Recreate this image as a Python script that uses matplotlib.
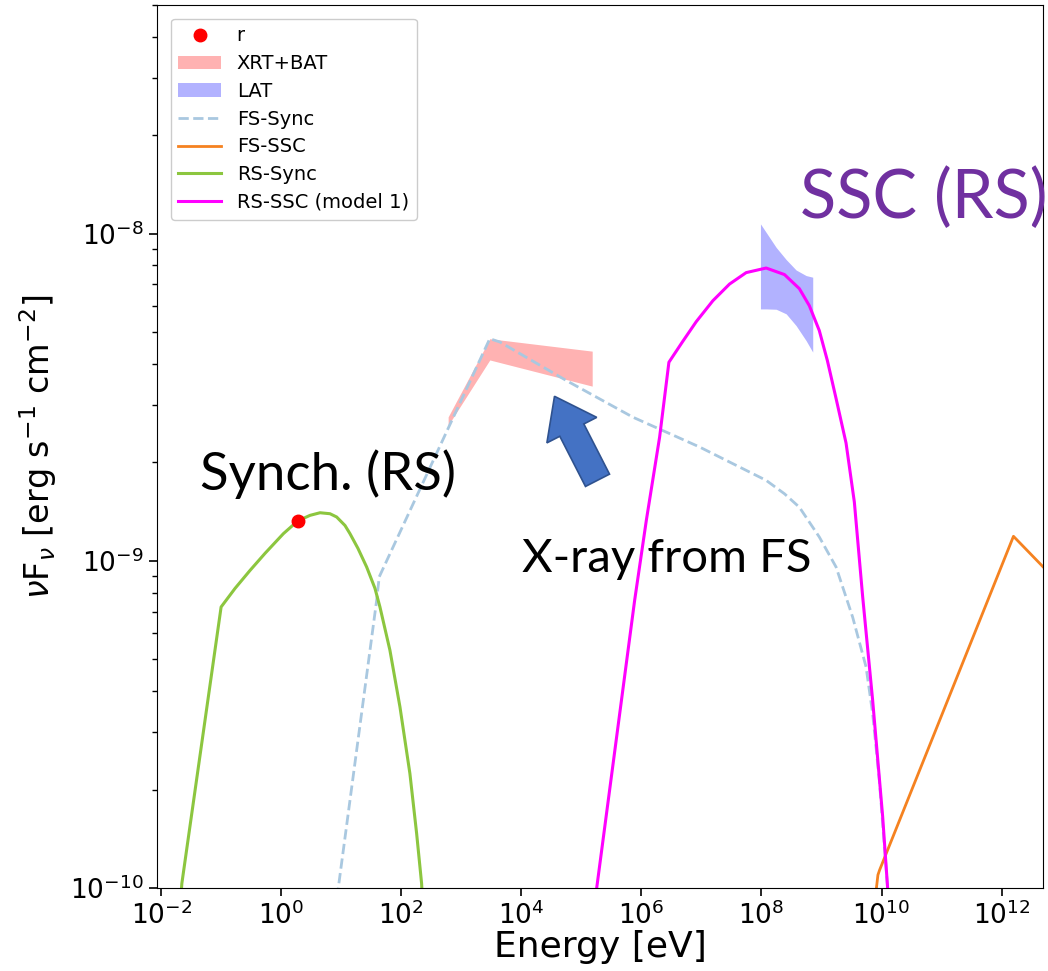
import numpy as np
import matplotlib
matplotlib.use('Agg')
import matplotlib.pyplot as plt
from matplotlib.patches import FancyArrow

# ---- data (log10 energy [eV], log10 nuFnu [erg/s/cm2]) ----
rs_sync_logE = [-1.70, -1.656, -1.002, -0.769, -0.519, -0.270, 0.035, 0.275, 0.479, 0.646,
                0.812, 0.923, 1.062, 1.145, 1.278, 1.423, 1.561, 1.644, 1.810, 1.977,
                2.143, 2.255, 2.338, 2.37]
rs_sync_logF = [-10.10, -9.986, -9.141, -9.084, -9.029, -8.977, -8.917, -8.878, -8.861, -8.853,
                -8.856, -8.866, -8.892, -8.917, -8.962, -9.019, -9.084, -9.141, -9.273, -9.446,
                -9.650, -9.833, -9.986, -10.10]

fs_sync_logE = [0.90, 0.950, 1.589, 1.632, 3.474, 3.641, 4.750, 5.859, 6.968, 8.078,
                8.383, 8.631, 8.963, 9.243, 9.519, 9.742, 9.852, 9.963, 10.10, 10.13]
fs_sync_logF = [-10.12, -10.0, -9.121, -9.049, -8.321, -8.331, -8.449, -8.561, -8.652, -8.754,
                -8.795, -8.836, -8.927, -9.019, -9.172, -9.324, -9.467, -9.670, -9.996, -10.10]

fs_ssc_logE = [9.90, 9.915, 9.94, 9.968, 12.198, 12.70]
fs_ssc_logF = [-10.10, -10.0, -9.96, -9.945, -8.925, -9.02]

rs_ssc_logE = [5.22, 5.255, 5.887, 6.082, 6.303, 6.458, 6.686, 6.913, 7.190, 7.468,
               7.745, 8.078, 8.383, 8.631, 8.797, 8.963, 9.098, 9.243, 9.409, 9.547,
               9.686, 9.852, 10.019, 10.10, 10.13]
rs_ssc_logF = [-10.12, -10.0, -9.121, -8.876, -8.622, -8.393, -8.330, -8.269, -8.205, -8.154,
               -8.119, -8.105, -8.125, -8.168, -8.220, -8.296, -8.388, -8.504, -8.640, -8.820,
               -9.110, -9.426, -9.782, -9.996, -10.10]

# optical point
r_E = [1.88]
r_F = [1.32e-9]

# XRT+BAT band
xrt_logE = [2.78, 3.474, 5.18]
xrt_lo = [-8.586, -8.386, -8.466]
xrt_hi = [-8.560, -8.321, -8.359]

# LAT bowtie
lat_logE = [7.983, 8.078, 8.245, 8.411, 8.577, 8.744, 8.854]
lat_lo = [-8.230, -8.230, -8.231, -8.245, -8.281, -8.327, -8.362]
lat_hi = [-7.970, -7.996, -8.042, -8.079, -8.111, -8.128, -8.133]


def p(v):
    return 10 ** np.array(v)


fig = plt.figure(figsize=(10.48, 9.71), dpi=100)
ax = fig.add_axes([157 / 1048, 1 - 888 / 971, (1043 - 157) / 1048, (888 - 5) / 971])

ax.plot(r_E, r_F, 'o', color='red', ms=9, label='r', zorder=5)
ax.fill_between(p(xrt_logE), p(xrt_lo), p(xrt_hi), color='red', alpha=0.3, lw=0, label='XRT+BAT')
ax.fill_between(p(lat_logE), p(lat_lo), p(lat_hi), color='blue', alpha=0.3, lw=0, label='LAT')
ax.plot(p(fs_sync_logE), p(fs_sync_logF), '--', color='#a9c8e0', lw=2, label='FS-Sync')
ax.plot(p(fs_ssc_logE), p(fs_ssc_logF), color='#f58220', lw=2, label='FS-SSC')
ax.plot(p(rs_sync_logE), p(rs_sync_logF), color='#8cc63f', lw=2.2, label='RS-Sync')
ax.plot(p(rs_ssc_logE), p(rs_ssc_logF), color='#ff00ff', lw=2.2, label='RS-SSC (model 1)')

ax.set_xscale('log')
ax.set_yscale('log')
ax.set_xlim(10 ** -2.07, 10 ** 12.69)
ax.set_ylim(1e-10, 5e-8)
ax.set_xticks([10.0 ** k for k in range(-2, 13, 2)])
ax.tick_params(axis='both', which='major', labelsize=19, length=6, width=1.2)
ax.tick_params(axis='both', which='minor', length=3.5, width=1)
ax.xaxis.set_minor_locator(matplotlib.ticker.NullLocator())
ax.set_xlabel('Energy [eV]', fontsize=26, labelpad=0)
ax.set_ylabel(r'$\nu$F$_\nu$ [erg s$^{-1}$ cm$^{-2}$]', fontsize=24, labelpad=8)

leg = ax.legend(loc='upper left', fontsize=14, handlelength=2.2, borderaxespad=0.7,
                labelspacing=0.45, framealpha=1)

# overlay annotations
txt_font = ['Lato', 'DejaVu Sans']
fig.text(200 / 1048, 1 - 490 / 971, 'Synch. (RS)', fontsize=38, family=txt_font, color='black')
fig.text(522 / 1048, 1 - 572 / 971, 'X-ray from FS', fontsize=34, family=txt_font, color='black')
fig.text(800 / 1048, 1 - 218 / 971, 'SSC (RS)', fontsize=48, family=txt_font, color='#7030a0')

arrow = FancyArrow(5.975, (971 - 480.3) / 100, -0.43, 0.84, width=0.27, head_width=0.56,
                   head_length=0.38, length_includes_head=True, transform=fig.dpi_scale_trans,
                   facecolor='#4472c4', edgecolor='#2f528f', lw=1.2)
fig.patches.append(arrow)

plt.savefig('out.png', dpi=100)
